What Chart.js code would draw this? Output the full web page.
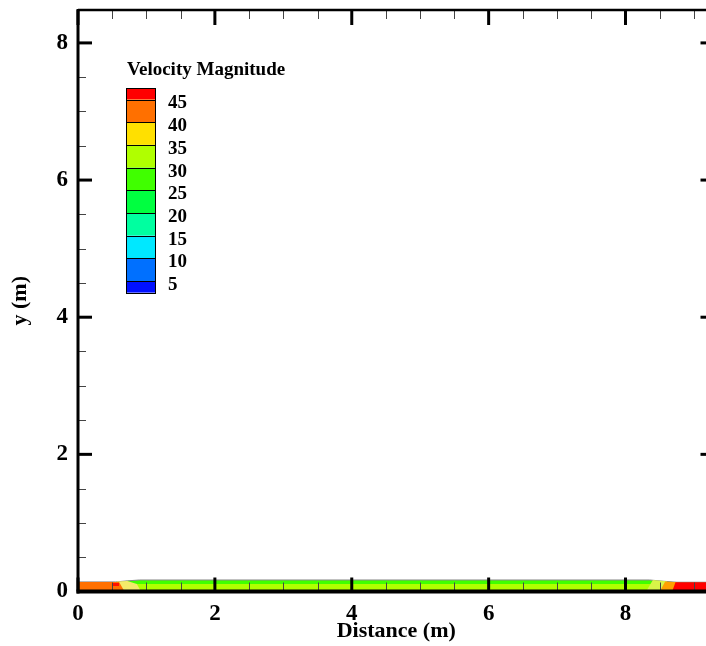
<!DOCTYPE html>
<html><head><meta charset="utf-8">
<script src="https://cdn.jsdelivr.net/npm/chart.js@4.4.1/dist/chart.umd.min.js"></script>
<style>
html,body{margin:0;padding:0;overflow:hidden;background:#fff;width:706px;height:646px}
#wrap{position:absolute;left:0;top:0;width:720px;height:646px}
</style></head><body>
<div id="wrap"><canvas id="c"></canvas></div>
<script>
// axis ticks
const xTicks = [0, 2, 4, 6, 8];
const yTicks = [0, 2, 4, 6, 8];
// contour legend
const legendTitle = 'Velocity Magnitude';
const levelLabels = ['45', '40', '35', '30', '25', '20', '15', '10', '5'];
const levelColors = ['#ff0000', '#ff7000', '#ffe000', '#b0ff00', '#40ff00', '#00ff40', '#00ffa0', '#00e8ff', '#0070ff', '#0010ff'];
// fluid layer (free surface profile)
const bandX   = [0, 0.55, 0.72, 0.9, 8.35, 8.55, 8.75, 9.3];
const bandTop = [0.14, 0.14, 0.155, 0.168, 0.168, 0.15, 0.135, 0.135];
// lower (30-35) zone
const lowerX   = [0.72, 0.85, 8.4, 8.55];
const lowerTop = [0.0, 0.11, 0.11, 0.0];
// inlet zone
const inletYellowX = [0.56, 0.72, 0.86, 0.92];
const inletYellowY = [0.145, 0.152, 0.11, 0.0];
const inletOrangeX = [0, 0.6, 0.68];
const inletOrangeY = [0.14, 0.14, 0.0];
const inletRedX = [0.5, 0.6];
const inletRedY = [0.125, 0.125];
// outlet zone
const outLightX = [8.3, 8.4, 8.6, 8.7];
const outLightY = [0.0, 0.166, 0.15, 0.0];
const outOrangeX = [8.5, 8.58, 8.75, 8.8];
const outOrangeY = [0.0, 0.145, 0.135, 0.0];
const outRedX = [8.68, 8.73, 9.3];
const outRedY = [0.0, 0.134, 0.134];

const pts = (xs, ys) => xs.map((x, i) => ({x, y: ys[i]}));
const FONT = "'Liberation Serif','Times New Roman',serif";

function area(xs, ys, color, order, fill, border) {
  return {
    data: pts(xs, ys), backgroundColor: color, borderColor: border || color,
    borderWidth: border ? 1 : 0, pointRadius: 0, fill: fill || 'origin', order, tension: 0
  };
}

const frame = {
  id: 'frame',
  afterDatasetsDraw(chart) {
    const ctx = chart.ctx, a = chart.chartArea;
    const xs = chart.scales.x, ys = chart.scales.y;
    ctx.save();
    // minor ticks
    ctx.lineWidth = 1; ctx.strokeStyle = '#444';
    for (let v = 0.5; v < xs.max; v += 0.5) {
      if (Math.abs(v / 2 - Math.round(v / 2)) < 1e-6) continue;
      const p = Math.round(xs.getPixelForValue(v)) + 0.5;
      ctx.beginPath(); ctx.moveTo(p, a.bottom); ctx.lineTo(p, a.bottom - 9); ctx.stroke();
      ctx.beginPath(); ctx.moveTo(p, a.top); ctx.lineTo(p, a.top + 9); ctx.stroke();
    }
    for (let v = 0.5; v < ys.max; v += 0.5) {
      if (Math.abs(v / 2 - Math.round(v / 2)) < 1e-6) continue;
      const p = Math.round(ys.getPixelForValue(v)) + 0.5;
      ctx.beginPath(); ctx.moveTo(a.left, p); ctx.lineTo(a.left + 8, p); ctx.stroke();
      ctx.beginPath(); ctx.moveTo(a.right, p); ctx.lineTo(a.right - 8, p); ctx.stroke();
    }
    // major ticks
    ctx.lineWidth = 3; ctx.strokeStyle = '#000';
    xTicks.forEach(v => {
      const p = xs.getPixelForValue(v);
      ctx.beginPath(); ctx.moveTo(p, a.bottom); ctx.lineTo(p, a.bottom - 14); ctx.stroke();
      ctx.beginPath(); ctx.moveTo(p, a.top); ctx.lineTo(p, a.top + 15); ctx.stroke();
    });
    yTicks.forEach(v => {
      const p = ys.getPixelForValue(v);
      ctx.beginPath(); ctx.moveTo(a.left, p); ctx.lineTo(a.left + 14, p); ctx.stroke();
      ctx.beginPath(); ctx.moveTo(a.right, p); ctx.lineTo(a.right - 14, p); ctx.stroke();
    });
    // frame
    ctx.lineWidth = 2.5;
    ctx.beginPath(); ctx.moveTo(a.left, a.top); ctx.lineTo(a.right, a.top); ctx.stroke();
    ctx.beginPath(); ctx.moveTo(a.right, a.top); ctx.lineTo(a.right, a.bottom); ctx.stroke();
    ctx.lineWidth = 3;
    ctx.beginPath(); ctx.moveTo(a.left, a.top - 1); ctx.lineTo(a.left, a.bottom + 2); ctx.stroke();
    ctx.lineWidth = 4;
    ctx.beginPath(); ctx.moveTo(a.left - 1.5, a.bottom); ctx.lineTo(a.right, a.bottom); ctx.stroke();

    // legend
    const lx = 126, lw = 29, top = 88, half = 11.5, step = 22.7;
    ctx.fillStyle = '#000';
    ctx.font = 'bold 19px ' + FONT;
    ctx.textBaseline = 'alphabetic'; ctx.textAlign = 'left';
    ctx.fillText(legendTitle, 127, 75);
    const edges = [top];
    for (let i = 0; i <= levelLabels.length - 1; i++) edges.push(top + half + i * step);
    edges.push(top + half + (levelLabels.length - 1) * step + half);
    for (let i = 0; i < levelColors.length; i++) {
      ctx.fillStyle = levelColors[i];
      ctx.fillRect(lx, edges[i], lw, edges[i + 1] - edges[i]);
    }
    ctx.strokeStyle = '#000'; ctx.lineWidth = 1;
    for (let i = 0; i < edges.length; i++) {
      const e = Math.round(edges[i]) + 0.5;
      ctx.beginPath(); ctx.moveTo(lx, e); ctx.lineTo(lx + lw, e); ctx.stroke();
    }
    ctx.strokeRect(lx + 0.5, Math.round(edges[0]) + 0.5, lw, Math.round(edges[edges.length - 1]) - Math.round(edges[0]));
    ctx.fillStyle = '#000';
    ctx.font = 'bold 19px ' + FONT;
    ctx.textBaseline = 'middle';
    levelLabels.forEach((t, i) => ctx.fillText(t, 168, edges[i + 1] + 4));
    ctx.restore();
  }
};

new Chart(document.getElementById('c'), {
  type: 'line',
  data: {
    datasets: [
      area(bandX, bandTop, '#40ff00', 10, 'origin', '#8a8a8a'),
      area(lowerX, lowerTop, '#b0ff00', 9),
      area(inletYellowX, inletYellowY, '#f4ea6a', 8),
      area(inletOrangeX, inletOrangeY, '#ff7000', 7),
      area(inletRedX, inletRedY, '#ff1000', 6, {value: 0.08}),
      area(outLightX, outLightY, '#d8f448', 8),
      area(outOrangeX, outOrangeY, '#ffa000', 7),
      area(outRedX, outRedY, '#ff0000', 6)
    ]
  },
  options: {
    responsive: true, maintainAspectRatio: false, animation: false,
    layout: {padding: {top: 10, right: 5.5, left: 0, bottom: 0}},
    plugins: {legend: {display: false}, tooltip: {enabled: false}},
    scales: {
      x: {
        type: 'linear', min: 0, max: 9.3,
        afterFit: s => { s.height = 54.5; s.paddingLeft = 0; s.paddingRight = 0; },
        grid: {display: false, drawTicks: false}, border: {display: false},
        ticks: {stepSize: 2, includeBounds: false, padding: 9, color: '#000',
          font: {family: FONT, size: 23, weight: 'bold'}, maxRotation: 0,
          callback: v => xTicks.includes(v) ? String(v) : ''},
        title: {display: true, text: 'Distance (m)', color: '#000',
          font: {family: FONT, size: 22, weight: 'bold'}, padding: {bottom: 1, top: 0}}
      },
      y: {
        type: 'linear', min: 0, max: 8.48,
        afterFit: s => { s.width = 78; s.paddingTop = 0; s.paddingBottom = 0; },
        grid: {display: false, drawTicks: false}, border: {display: false},
        ticks: {stepSize: 2, includeBounds: false, padding: 10, color: '#000',
          font: {family: FONT, size: 23, weight: 'bold'},
          callback: v => yTicks.includes(v) ? String(v) : ''},
        title: {display: true, text: 'y (m)', color: '#000',
          font: {family: FONT, size: 22, weight: 'bold'}, padding: {top: 7, bottom: 0}}
      }
    }
  },
  plugins: [frame]
});
</script>
</body></html>
